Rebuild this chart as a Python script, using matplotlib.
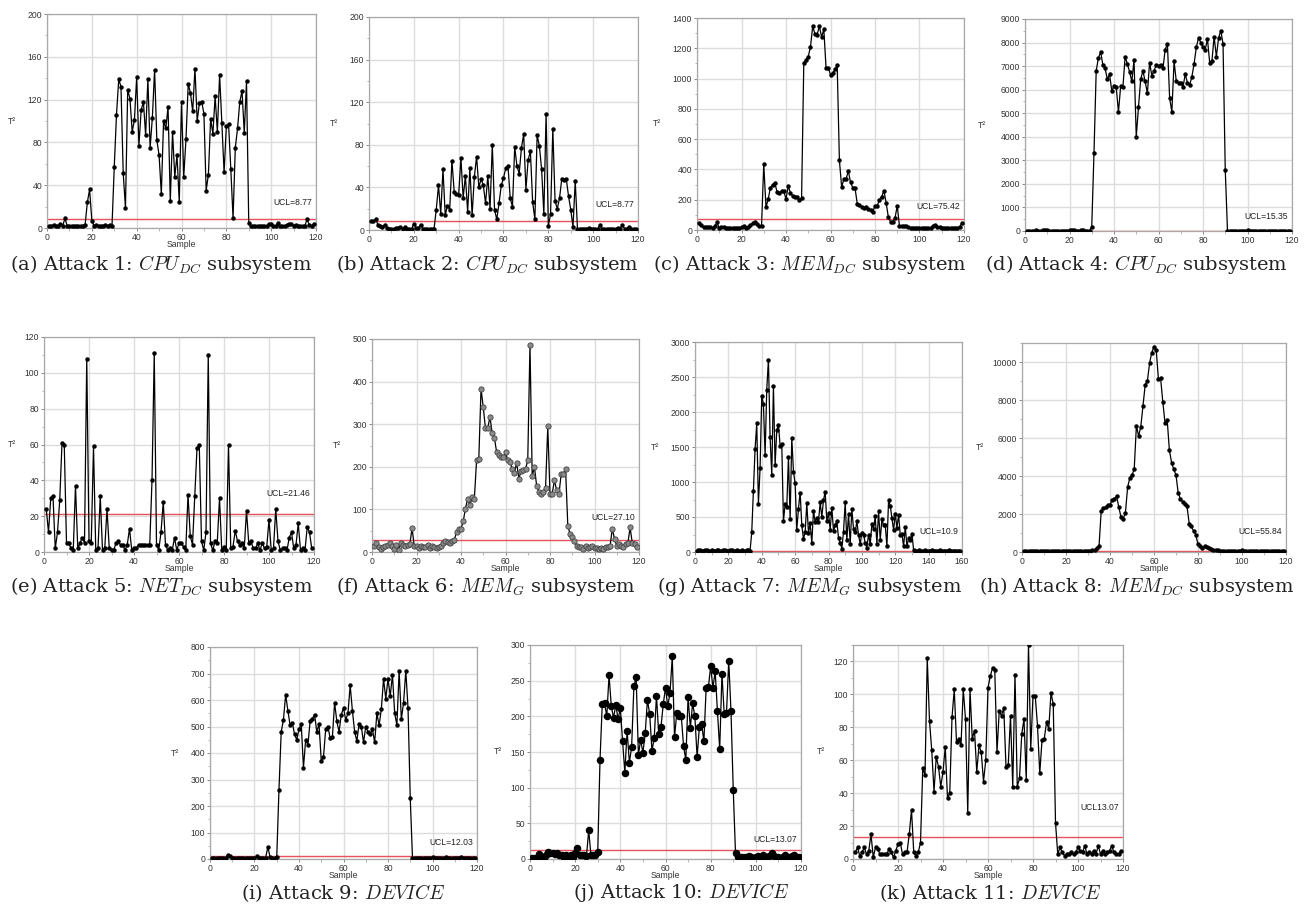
import numpy as np
import matplotlib
matplotlib.use("Agg")
import matplotlib.pyplot as plt
from matplotlib.ticker import MultipleLocator, AutoMinorLocator

plt.rcParams['mathtext.fontset'] = 'cm'

# ---------------- data ----------------
a_vals = [2,2,3,2,2,4,2,9,2,2,2,2,2,2,2,2,3,24,36,7,2,3,2,2,2,3,2,3,2,
          57,106,139,132,51,19,129,121,90,101,141,77,110,118,87,139,75,103,148,82,
          68,32,100,93,113,25,90,48,68,24,118,48,83,135,126,109,149,100,117,118,
          107,35,50,102,88,123,90,143,98,52,95,97,55,9,75,93,118,128,89,137,
          5,2,2,2,2,2,2,2,2,4,4,2,2,5,2,2,2,3,4,4,2,3,2,2,2,2,8,3,2,4]
b_vals = [8,8,10,5,4,3,5,2,1,1,1,2,2,3,1,3,1,1,1,6,2,2,5,1,1,1,1,1,1,
          19,42,15,57,14,23,19,65,36,34,33,68,30,51,17,58,14,50,69,40,
          48,42,25,51,20,80,19,10,25,42,49,58,60,30,22,78,60,53,77,90,
          38,66,74,26,10,89,79,57,15,109,4,15,95,27,20,30,48,47,48,32,
          19,3,46,1,
          1,1,1,1,2,1,1,1,1,5,1,1,1,1,1,1,1,2,1,5,1,1,3,1,1,1]
c_vals = [45,30,20,18,18,18,16,25,50,12,22,20,12,10,10,10,12,14,15,20,25,15,20,30,45,50,40,25,25,
          435,150,205,280,300,310,250,245,255,255,205,290,245,225,220,215,200,210,1105,1120,
          1145,1210,1345,1295,1290,1345,1275,1325,1070,1070,1025,1035,1060,1090,
          460,285,335,335,390,315,280,280,175,165,155,145,155,140,130,120,160,160,200,220,
          260,180,85,55,50,80,160,25,
          25,25,25,18,15,15,14,14,14,15,15,15,15,16,25,35,22,18,15,14,12,12,12,12,12,14,20,45]
d_vals = [20,20,20,20,25,20,20,30,25,25,20,20,20,20,20,20,20,20,20,25,30,25,20,20,25,60,20,20,20,
          180,3300,6800,7350,7600,7050,6900,6450,6650,5950,6150,6100,5050,6150,6100,7400,7100,6750,6350,7250,
          4000,5250,6450,6800,6350,5850,7150,6600,6800,7050,7000,7050,6900,7700,7950,5650,5050,7200,6350,6300,
          6300,6100,6650,6300,6200,6550,7100,7800,8200,8000,7800,7700,8150,7150,7200,8250,7400,8200,8500,7950,
          2600,
          20,20,20,20,20,20,20,20,20,25,20,20,20,20,20,20,20,20,20,20,20,20,20,20,20,20,20,20,20]
e_vals = [24,11,30,31,2,11,29,61,60,5,5,2,1,37,2,5,8,5,108,6,
          5,59,1,2,31,1,2,24,2,1,1,5,6,4,4,1,4,13,1,2,
          2,4,4,4,4,4,4,40,111,4,1,11,28,4,1,2,1,8,1,5,
          5,3,1,32,9,4,31,58,60,6,1,11,110,5,1,6,5,30,1,3,
          1,60,2,3,12,6,4,5,2,23,5,6,2,2,5,1,5,2,3,18,
          1,2,24,6,1,2,2,1,8,11,2,4,16,1,2,1,14,11,2]
f_vals = [15,20,12,8,12,14,16,20,14,6,16,5,22,16,14,16,18,56,14,14,
          10,14,12,12,16,10,14,12,10,12,14,20,25,24,20,25,28,48,55,55,
          72,102,125,110,128,125,215,218,383,340,290,290,317,280,268,235,228,222,222,235,
          215,212,195,185,210,172,190,192,195,215,487,178,200,155,142,135,140,150,295,135,
          137,168,145,135,182,182,195,62,42,35,25,15,12,12,8,14,10,12,14,10,
          10,8,10,8,12,12,14,55,30,15,18,14,12,18,20,58,20,18,12]
g_vals = [20,22,25,20,20,22,25,20,20,22,20,20,25,22,20,20,25,22,20,20,22,25,20,20,22,20,20,25,20,20,22,25,20,
          280,870,1470,1840,690,1200,2230,2120,1380,2320,2750,1640,1100,2370,1240,1740,1820,1520,1540,440,
          680,640,1360,470,1630,1150,980,320,620,850,380,190,280,700,270,410,130,590,430,490,
          430,710,500,740,860,440,560,320,630,300,380,440,200,130,50,290,710,170,540,120,
          610,330,280,440,240,120,270,250,130,60,250,110,400,330,510,110,580,170,470,380,
          390,80,740,660,480,310,550,350,530,240,260,80,360,80,200,170,260,30,
          20,20,22,20,20,20,22,20,20,20,22,20,20,20,20,22,20,20,20,20,22,20,20,20,20,20,20,20]
h_vals = [40,40,50,40,40,50,40,40,40,50,40,40,40,40,50,40,40,40,40,40,50,40,40,50,40,40,50,40,40,
          50,60,80,120,200,300,
          2150,2300,2350,2450,2480,2750,2780,2950,2350,1850,1750,2050,3400,3900,4050,4350,6650,6100,6600,7700,
          8800,9000,9950,10500,10800,10650,9100,9150,7900,6800,6950,5350,4700,4350,4050,3100,2800,2650,2550,2400,
          1500,1350,1100,900,400,300,200,300,250,200,150,100,100,100,
          60,60,60,50,50,50,50,50,50,60,100,60,50,50,50,50,50,50,50,60,50,50,50,50,50,60,50,50,50,50]
i_vals = [5,5,5,5,5,5,5,15,12,5,5,5,5,5,5,5,5,5,5,5,10,5,5,5,5,45,8,5,5,8,
          262,480,525,620,560,505,515,470,450,490,510,345,450,430,520,530,545,480,510,370,
          385,490,500,455,460,590,520,480,545,570,525,550,655,560,480,445,510,500,440,500,
          480,470,490,440,550,505,565,680,605,680,615,695,550,505,710,528,590,710,570,230,
          5,5,5,5,5,5,5,5,5,6,5,5,5,5,5,8,5,5,5,5,5,5,6,5,5,5,5,5,5]
j_vals = [2,2,2,7,2,2,5,10,8,9,7,8,5,6,2,5,2,5,3,8,15,6,5,6,4,40,5,5,6,10,
          139,217,218,200,258,214,198,216,196,211,165,121,180,135,157,242,255,146,167,149,
          176,223,203,152,169,229,175,185,217,240,214,233,284,171,205,201,200,158,139,227,
          184,218,200,143,185,189,165,240,241,270,240,263,207,154,260,203,204,278,207,97,
          8,3,3,3,3,3,4,3,2,3,4,3,5,3,3,4,8,4,3,3,2,3,5,3,3,4,6,3,3]
k_vals = [4,7,2,4,7,3,5,15,1,7,6,3,3,3,3,6,4,1,5,9,10,3,4,4,15,30,4,2,4,10,
          55,51,122,84,66,41,62,56,44,53,68,37,40,86,103,71,73,69,103,85,
          28,103,73,78,53,69,65,47,60,104,111,116,115,65,90,87,92,56,57,87,
          44,112,44,49,76,85,48,130,67,99,99,81,52,72,73,83,79,101,94,22,
          3,7,4,2,3,3,4,3,4,7,5,4,8,3,4,3,5,3,8,3,5,3,4,5,8,4,3,3,5]

ucl_values = [8.77, 8.77, 75.42, 15.35, 21.46, 27.10, 10.9, 55.84, 12.03, 13.07, 13.07]
ucl_labels = ["UCL=8.77", "UCL=8.77", "UCL=75.42", "UCL=15.35", "UCL=21.46", "UCL=27.10",
              "UCL=10.9", "UCL=55.84", "UCL=12.03", "UCL=13.07", "UCL13.07"]
captions = [r"(a) Attack 1: $CPU_{DC}$ subsystem", r"(b) Attack 2: $CPU_{DC}$ subsystem",
            r"(c) Attack 3: $MEM_{DC}$ subsystem", r"(d) Attack 4: $CPU_{DC}$ subsystem",
            r"(e) Attack 5: $NET_{DC}$ subsystem", r"(f) Attack 6: $MEM_{G}$ subsystem",
            r"(g) Attack 7: $MEM_{G}$ subsystem", r"(h) Attack 8: $MEM_{DC}$ subsystem",
            r"(i) Attack 9: $DEVICE$", r"(j) Attack 10: $DEVICE$", r"(k) Attack 11: $DEVICE$"]
series = [a_vals, b_vals, c_vals, d_vals, e_vals, f_vals, g_vals, h_vals, i_vals, j_vals, k_vals]
y_max = [200, 200, 1400, 9000, 120, 500, 3000, 11000, 800, 300, 130]
y_step = [40, 40, 200, 1000, 20, 100, 500, 2000, 100, 50, 20]
x_max = [120, 120, 120, 120, 120, 120, 160, 120, 120, 120, 120]

# ---------------- layout (pixels) ----------------
W, H = 1304, 917
boxes = [(47, 316, 14, 228), (369, 638, 17, 230), (697, 964, 18, 230), (1025, 1292, 19, 231),
         (44, 314, 337, 552), (372, 639, 339, 552), (695, 962, 342, 552), (1022, 1286, 343, 552),
         (210, 477, 647, 859), (530, 801, 645, 859), (853, 1123, 645, 859)]
cap_pos = [(161, 264), (487, 264), (810, 264), (1136, 264),
           (162, 586), (486, 586), (810, 586), (1137, 586),
           (343, 893), (681, 893), (990, 893)]
ylabel_x = [-0.13, -0.13, -0.15, -0.16, -0.12, -0.13, -0.15, -0.16, -0.13, -0.12, -0.12]
ucl_text_y = [0.12, 0.12, 0.11, 0.07, 0.27, 0.16, 0.10, 0.10, 0.08, 0.09, 0.24]
show_sample = [True, False, False, False, True, True, True, True, True, True, True]

fig = plt.figure(figsize=(W / 100, H / 100), dpi=100)
FS = 6.2

for idx, vals in enumerate(series):
    l, r, t, b = boxes[idx]
    ax = fig.add_axes([l / W, 1 - b / H, (r - l) / W, (b - t) / H])
    x = np.arange(1, len(vals) + 1)
    if idx == 5:
        ax.plot(x, vals, color='black', lw=0.9, marker='o', ms=3.8,
                mfc='#8a8a8a', mec='#444444', mew=0.6, zorder=3)
    elif idx == 9:
        ax.plot(x, vals, color='black', lw=0.9, marker='o', ms=4.4,
                mfc='black', mec='black', zorder=3)
    else:
        ax.plot(x, vals, color='black', lw=0.9, marker='o', ms=2.2,
                mfc='black', mec='black', zorder=3)
    ax.axhline(ucl_values[idx], color='#e8505b', lw=1.0, zorder=2)
    ax.text(0.985, ucl_text_y[idx], ucl_labels[idx], transform=ax.transAxes,
            ha='right', va='center', fontsize=6.2, family='Liberation Sans', color='#222222')
    ax.set_xlim(0, x_max[idx])
    ax.set_ylim(0, y_max[idx])
    ax.xaxis.set_major_locator(MultipleLocator(20))
    ax.yaxis.set_major_locator(MultipleLocator(y_step[idx]))
    ax.xaxis.set_minor_locator(AutoMinorLocator(2))
    ax.yaxis.set_minor_locator(AutoMinorLocator(2))
    ax.grid(True, which='major', color='#dcdcdc', lw=1.0, zorder=0)
    ax.set_axisbelow(True)
    for s in ax.spines.values():
        s.set_color('#a8a8a8')
        s.set_linewidth(0.9)
    ax.tick_params(which='major', direction='out', length=2.5, width=0.7, color='#888888',
                   labelsize=FS, labelcolor='#333333', pad=1)
    ax.tick_params(which='minor', direction='out', length=1.8, width=0.6, color='#aaaaaa')
    for lab in ax.get_xticklabels() + ax.get_yticklabels():
        lab.set_family('Liberation Sans')
    ax.set_ylabel('T²', rotation=0, fontsize=FS, family='Liberation Sans',
                  color='#333333', ha='center', va='center')
    ax.yaxis.set_label_coords(ylabel_x[idx], 0.5)
    if show_sample[idx]:
        ax.set_xlabel('Sample', fontsize=FS, family='Liberation Sans', color='#333333',
                      va='center')
        ax.xaxis.set_label_coords(0.5, -0.079)
    cx, cy = cap_pos[idx]
    fig.text(cx / W, 1 - cy / H, captions[idx], ha='center', va='center',
             fontsize=14, family='DejaVu Serif', color='#222222')

fig.savefig('out.png', dpi=100)
